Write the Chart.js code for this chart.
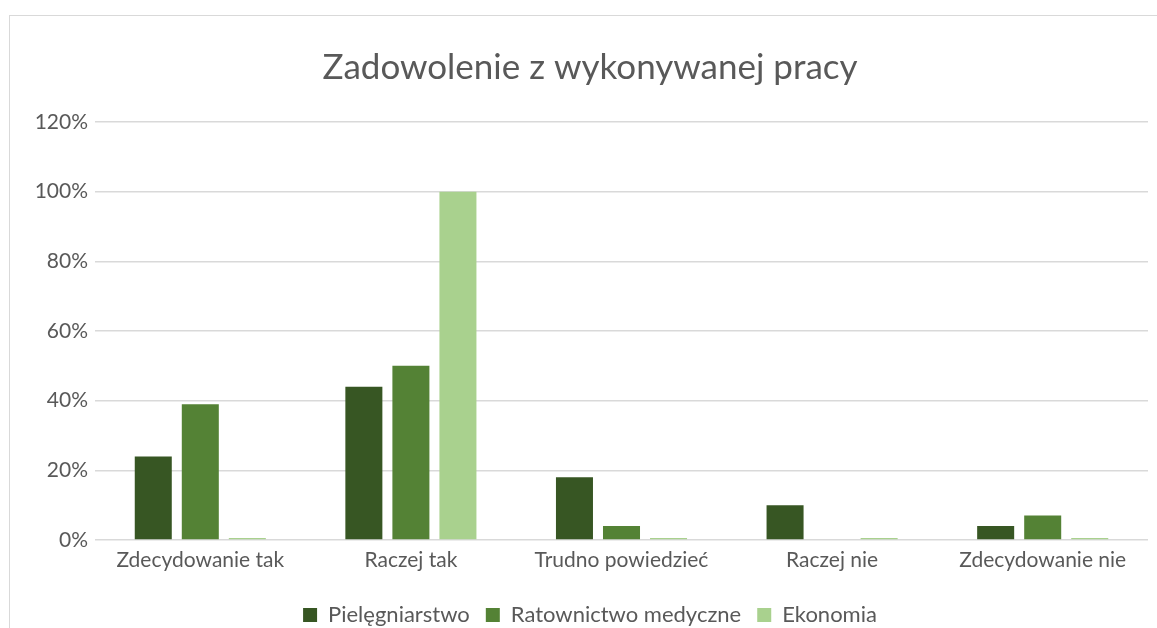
<!DOCTYPE html>
<html lang="pl">
<head>
  <meta charset="UTF-8" />
  <title>Zadowolenie z wykonywanej pracy</title>
  <script src="https://cdn.jsdelivr.net/npm/chart.js"></script>
  <style>
    body {
      margin: 0;
      background: #fff;
      overflow: hidden;
    }

    .frame {
      position: absolute;
      left: 9px;
      top: 15px;
      width: 1200px;
      height: 700px;
      border: 1px solid #d9d9d9;
    }

    .chart-box {
      position: absolute;
      left: 0;
      top: 0;
      width: 1157px;
      height: 628px;
    }
  </style>
</head>
<body>
  <div class="frame"></div>
  <div class="chart-box">
    <canvas id="satisfactionChart"></canvas>
  </div>

  <script>
    const categories = ['Zdecydowanie tak', 'Raczej tak', 'Trudno powiedzieć', 'Raczej nie', 'Zdecydowanie nie'];
    const pielegniarstwo = [24, 44, 18, 10, 4];
    const ratownictwo = [39, 50, 4, 0, 7];
    const ekonomia = [0, 100, 0, 0, 0];
    const yTicks = [0, 20, 40, 60, 80, 100, 120];

    const fontFamily = 'Lato, "Open Sans", sans-serif';
    const textColor = '#595959';

    new Chart(document.getElementById('satisfactionChart'), {
      type: 'bar',
      data: {
        labels: categories,
        datasets: [
          {
            label: 'Pielęgniarstwo',
            data: pielegniarstwo,
            backgroundColor: '#375623'
          },
          {
            label: 'Ratownictwo medyczne',
            data: ratownictwo,
            backgroundColor: '#548235'
          },
          {
            label: 'Ekonomia',
            data: ekonomia,
            backgroundColor: '#a9d18e',
            minBarLength: 2
          }
        ]
      },
      options: {
        responsive: true,
        maintainAspectRatio: false,
        animation: false,
        categoryPercentage: 0.67,
        barPercentage: 0.787,
        // the original chart is wider than the crop, so its title sits right of the canvas middle
        layout: {
          padding: { left: 32, right: 9, top: 0, bottom: -8 }
        },
        plugins: {
          title: {
            display: true,
            text: 'Zadowolenie z wykonywanej pracy',
            color: textColor,
            font: { family: fontFamily, size: 35, weight: 'normal' },
            padding: { top: 47, bottom: 33 }
          },
          legend: {
            position: 'bottom',
            labels: {
              color: textColor,
              font: { family: fontFamily, size: 22 },
              boxWidth: 14,
              boxHeight: 14,
              padding: 16
            }
          },
          tooltip: { enabled: false }
        },
        scales: {
          x: {
            grid: { display: false },
            border: { display: false },
            ticks: {
              color: textColor,
              font: { family: fontFamily, size: 21 },
              padding: 0,
              maxRotation: 0
            },
            afterFit: scale => { scale.height = 48; }
          },
          y: {
            min: 0,
            max: 120,
            afterBuildTicks: scale => {
              scale.ticks = yTicks.map(v => ({ value: v }));
            },
            grid: {
              color: '#d9d9d9',
              lineWidth: 1.5,
              drawTicks: false
            },
            border: { display: false },
            ticks: {
              color: textColor,
              font: { family: fontFamily, size: 21 },
              padding: 7,
              callback: v => v + '%'
            },
            afterFit: scale => { scale.width = 63; }
          }
        }
      }
    });
  </script>
</body>
</html>
